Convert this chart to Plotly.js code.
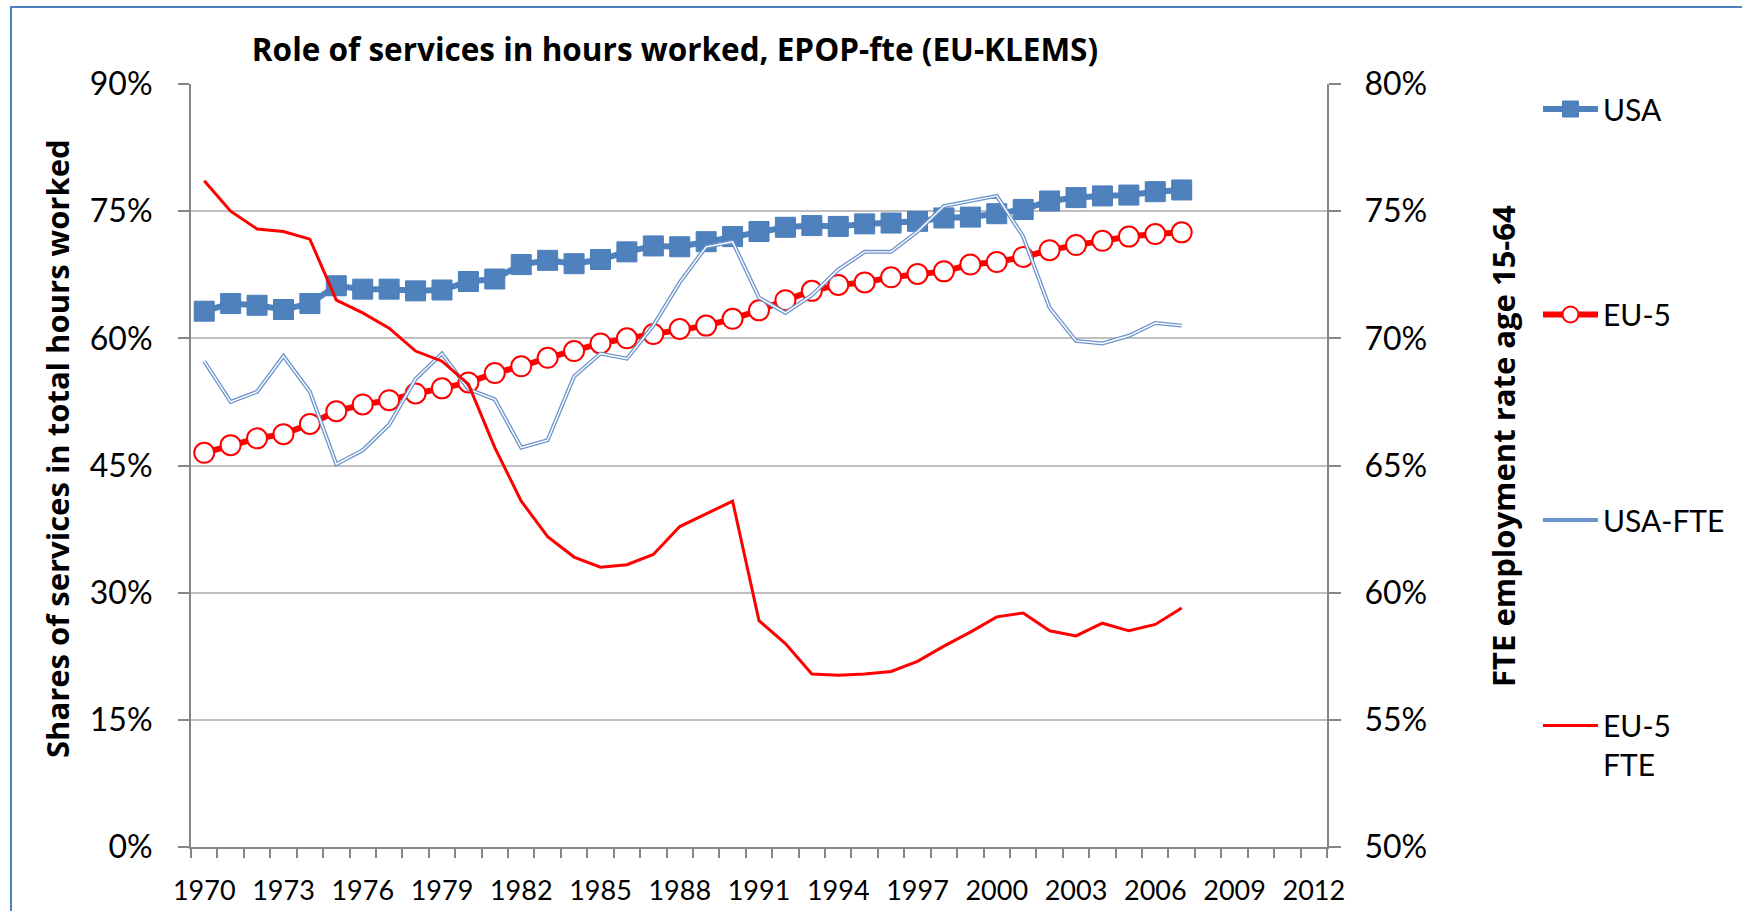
<!DOCTYPE html>
<html><head><meta charset="utf-8">
<script src="https://cdn.plot.ly/plotly-3.0.1.min.js"></script>
<style>
html,body{margin:0;padding:0;background:#fff;}
#chart{width:1742px;height:911px;position:absolute;left:0;top:0;}
#frame{position:absolute;left:10px;top:6px;width:1740px;height:910px;border-left:2px solid #4F81BD;border-top:2px solid #4F81BD;pointer-events:none;}
</style>
</head><body>
<div id="chart"></div><div id="frame"></div>
<script>
const years = [1970,1971,1972,1973,1974,1975,1976,1977,1978,1979,1980,1981,1982,1983,1984,1985,1986,1987,1988,1989,1990,1991,1992,1993,1994,1995,1996,1997,1998,1999,2000,2001,2002,2003,2004,2005,2006,2007];
// Shares of services in total hours worked (%)
const usa  = [63.2,64.1,63.9,63.4,64.1,66.2,65.8,65.8,65.6,65.7,66.7,67.0,68.7,69.2,68.8,69.3,70.2,70.9,70.8,71.4,72.0,72.6,73.1,73.3,73.2,73.5,73.6,73.8,74.2,74.3,74.7,75.2,76.2,76.6,76.8,76.9,77.3,77.5];
const eu5  = [46.5,47.4,48.2,48.7,49.9,51.4,52.2,52.7,53.5,54.1,54.8,55.9,56.7,57.7,58.5,59.4,60.0,60.5,61.1,61.5,62.3,63.3,64.5,65.6,66.3,66.6,67.2,67.6,67.9,68.7,69.0,69.6,70.4,71.0,71.5,72.0,72.3,72.5];
// FTE employment rate age 15-64 (%)
const usaFte = [69.1,67.5,67.9,69.3,67.9,65.05,65.6,66.6,68.4,69.4,68.0,67.6,65.7,66.0,68.5,69.4,69.2,70.5,72.2,73.6,73.8,71.6,71.0,71.7,72.7,73.4,73.4,74.2,75.2,75.4,75.6,74.0,71.2,69.9,69.8,70.1,70.6,70.5];
const eu5Fte = [76.2,75.0,74.3,74.2,73.9,71.5,71.0,70.4,69.5,69.1,68.2,65.7,63.6,62.2,61.4,61.0,61.1,61.5,62.6,63.1,63.6,58.9,58.0,56.8,56.75,56.8,56.9,57.3,57.9,58.45,59.05,59.2,58.5,58.3,58.8,58.5,58.75,59.4];
const names = ['USA','EU-5','USA-FTE','EU-5<br>FTE'];
const xTickLabelsStart = 1970, xTickStep = 3;
const leftTitle = 'Shares of services in total hours worked';
const rightTitle = 'FTE employment rate age 15-64';

const traces = [
  {x:years, y:usaFte, yaxis:'y2', mode:'lines', name:names[2], legendrank:3, legendgroup:'g3',
   line:{color:'#6B93CC', width:4}},
  {x:years, y:usaFte, yaxis:'y2', mode:'lines', name:names[2], showlegend:false, legendgroup:'g3',
   line:{color:'#ffffff', width:1.4}, hoverinfo:'skip'},
  {x:years, y:eu5Fte, yaxis:'y2', mode:'lines', name:names[3], legendrank:4, legendgroup:'g4',
   line:{color:'#FF0000', width:3}},
  {x:years, y:usa, yaxis:'y', mode:'lines+markers', name:names[0], legendrank:1, legendgroup:'g1',
   line:{color:'#4F81BD', width:6}, marker:{symbol:'square', size:20, color:'#4F81BD', line:{color:'#4A7EBB', width:1}}},
  {x:years, y:eu5, yaxis:'y', mode:'lines+markers', name:names[1], legendrank:2, legendgroup:'g2',
   line:{color:'#FF0000', width:6}, marker:{symbol:'circle', size:20, color:'#ffffff', line:{color:'#FF0000', width:2}}}
];

const axisGray = '#868686';
const titleFont = '"Open Sans", Lato, sans-serif';
const layout = {
  width:1742, height:911,
  margin:{l:191, r:415, t:84, b:64, pad:0},
  paper_bgcolor:'#ffffff', plot_bgcolor:'#ffffff',
  font:{family:'Lato, "Open Sans", sans-serif', color:'#000000', size:28},
  showlegend:true,
  title:{text:'<b>Role of services in hours worked, EPOP-fte (EU-KLEMS)</b>', x:675/1742, xanchor:'center', y:1-50/911, yanchor:'middle', font:{size:31.5, family:titleFont, color:'#000'}},
  xaxis:{range:[1969.5,2012.5], tickmode:'linear', tick0:xTickLabelsStart, dtick:xTickStep,
    ticks:'outside', ticklen:9, tickcolor:'rgba(0,0,0,0)', showline:true, linecolor:axisGray, linewidth:2,
    showgrid:false, zeroline:false, tickfont:{size:27}, ticklabelstandoff:10,
    minor:{tick0:1969.5, dtick:1, ticks:'outside', ticklen:9, tickcolor:axisGray, tickwidth:2, showgrid:false}},
  yaxis:{range:[0,90], tickmode:'linear', tick0:0, dtick:15, ticksuffix:'%',
    ticks:'outside', ticklen:11, tickwidth:2, tickcolor:axisGray, showline:true, linecolor:axisGray, linewidth:2,
    gridcolor:'#BFBFBF', gridwidth:2, zeroline:false, tickfont:{size:32}, ticklabelstandoff:19},
  yaxis2:{overlaying:'y', side:'right', range:[50,80], tickmode:'linear', tick0:50, dtick:5, ticksuffix:'%',
    ticks:'outside', ticklen:12, tickwidth:2, tickcolor:axisGray, showline:true, linecolor:axisGray, linewidth:2,
    showgrid:false, zeroline:false, tickfont:{size:32}, ticklabelstandoff:17},
  annotations:[
    {text:'<b>'+leftTitle+'</b>', xref:'paper', yref:'paper', x:(57-191)/1136, y:(847-449)/763,
     xanchor:'center', yanchor:'middle', textangle:-90, showarrow:false, font:{size:31, family:titleFont, color:'#000'}},
    {text:'<b>'+rightTitle+'</b>', xref:'paper', yref:'paper', x:(1503-191)/1136, y:(847-446)/763,
     xanchor:'center', yanchor:'middle', textangle:-90, showarrow:false, font:{size:31, family:titleFont, color:'#000'}}
  ],
  legend:{x:(1538-191)/1136, xanchor:'left', y:(847-83)/763, yanchor:'top', font:{size:30},
    itemwidth:55, tracegroupgap:163.5, valign:'top', bgcolor:'rgba(0,0,0,0)', borderwidth:0, maxheight:911}
};

Plotly.newPlot('chart', traces, layout, {displayModeBar:false, staticPlot:true});
</script>
</body></html>
